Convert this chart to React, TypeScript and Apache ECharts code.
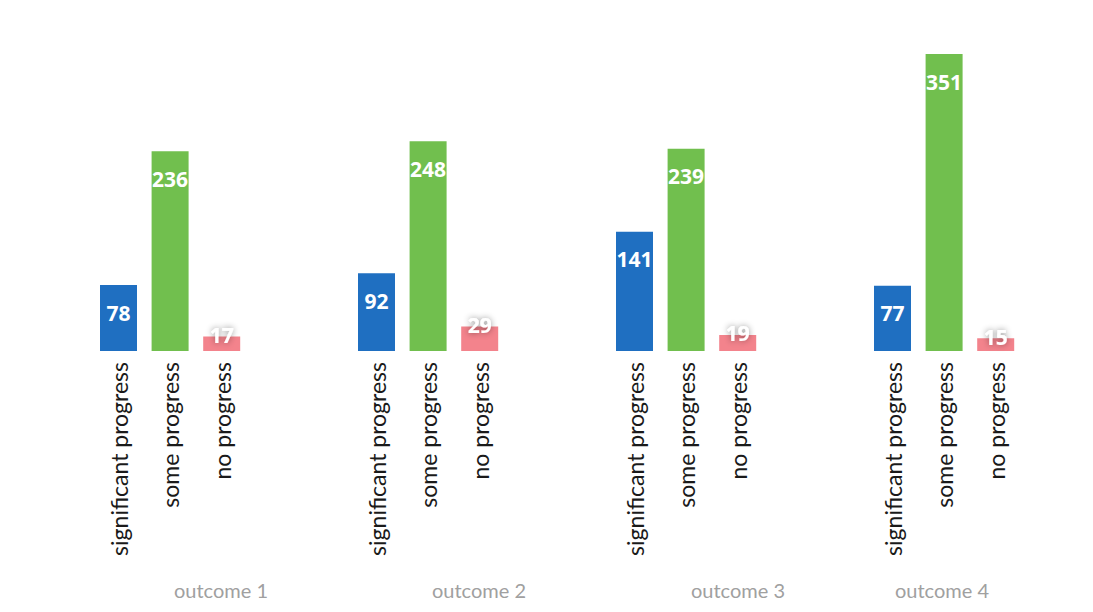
import React, { useEffect, useRef } from "react";
import * as echarts from "echarts";

const outcomes = ["outcome 1", "outcome 2", "outcome 3", "outcome 4"];
const statuses = ["significant progress", "some progress", "no progress"];
const significantProgress = [78, 92, 141, 77];
const someProgress = [236, 248, 239, 351];
const noProgress = [17, 29, 19, 15];
const colors = ["#1f6fc1", "#71bf4e", "#f3838c"];
const outcomeLabelX = [221, 479, 738, 942];

export default function App() {
  const ref = useRef<HTMLDivElement>(null);
  useEffect(() => {
    if (!ref.current) return;
    const chart = echarts.init(ref.current, null, { renderer: "svg" });
    const seriesVals = [significantProgress, someProgress, noProgress];
    const cats: string[] = [];
    const data: any[] = [];
    outcomes.forEach((_, g) => {
      statuses.forEach((s, k) => {
        const v = seriesVals[k][g];
        const small = v < 50;
        cats.push(s);
        data.push({
          value: v,
          itemStyle: { color: colors[k] },
          label: small
            ? {
                position: "top",
                distance: -9,
                textShadowColor: "rgba(0,0,0,0.45)",
                textShadowBlur: 6,
              }
            : { position: "insideTop", distance: 17 },
        });
      });
      if (g < outcomes.length - 1) {
        cats.push("", "");
        data.push("-", "-");
      }
    });
    chart.setOption({
      animation: false,
      backgroundColor: "#ffffff",
      grid: { left: 92.7, right: 71.5, top: 54, bottom: 261, containLabel: false },
      xAxis: {
        type: "category",
        data: cats,
        axisLine: { show: false },
        axisTick: { show: false },
        axisLabel: {
          interval: 0,
          rotate: 90,
          margin: 11,
          color: "#1a1a1a",
          fontFamily: "Lato",
          fontSize: 23,
        },
      },
      yAxis: {
        type: "value",
        min: 0,
        max: 351,
        show: false,
        splitLine: { show: false },
      },
      series: [
        {
          type: "bar",
          data,
          barWidth: 37,
          label: {
            show: true,
            color: "#ffffff",
            fontWeight: "bold",
            fontFamily: "Open Sans",
            fontSize: 21,
          },
        },
      ],
      graphic: outcomes.map((o, i) => ({
        type: "text",
        x: outcomeLabelX[i],
        y: 590,
        style: {
          text: o,
          fill: "#a0a0a0",
          font: "20px Lato",
          textAlign: "center",
          textVerticalAlign: "middle",
        },
      })),
    });
    return () => chart.dispose();
  }, []);
  return (
    <div
      ref={ref}
      style={{ position: "fixed", left: 0, top: 0, width: 1093, height: 612 }}
    />
  );
}
